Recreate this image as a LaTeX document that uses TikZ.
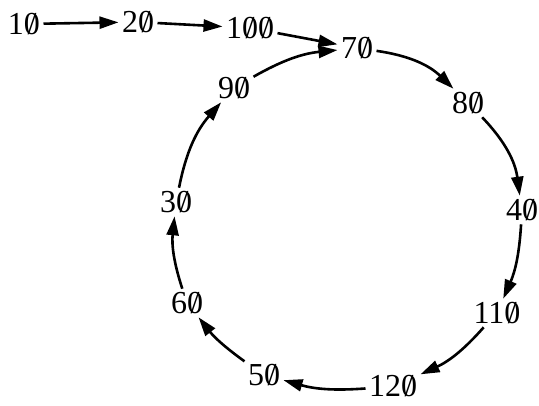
\documentclass[tikz,border=0pt]{standalone}
\usepackage{fontspec}
\setmainfont{Liberation Serif}
\usetikzlibrary{arrows.meta}
\newcommand{\oh}{\ooalign{0\cr\hidewidth/\hidewidth\cr}}

\begin{document}
\begin{tikzpicture}[x=1pt,y=-1pt,
  num/.style={inner sep=1.5pt,outer sep=2pt,font=\fontsize{32}{34}\selectfont},
  arr/.style={-{Triangle[length=19pt,width=12pt]},line width=2.6pt}]
\useasboundingbox (0,0) rectangle (539,405);
\node[num] (n10) at (24,24) {1\oh};
\node[num] (n20) at (138,22) {2\oh};
\node[num] (n100) at (250,28) {1\oh\oh};
\node[num] (n70) at (357,48) {7\oh};
\node[num] (n80) at (468,103) {8\oh};
\node[num] (n40) at (522,210) {4\oh};
\node[num] (n110) at (497,313) {11\oh};
\node[num] (n120) at (393,386) {12\oh};
\node[num] (n50) at (264,375) {5\oh};
\node[num] (n60) at (187,303) {6\oh};
\node[num] (n30) at (176,202) {3\oh};
\node[num] (n90) at (234,88) {9\oh};
\draw[arr] (n10) to (n20);
\draw[arr] (n20) to (n100);
\draw[arr] (n100) to (n70);
\draw[arr] (n70) to[bend left=18] (n80);
\draw[arr] (n80) to[bend left=18] (n40);
\draw[arr] (n40) to[bend left=10] (n110);
\draw[arr] (n110) to[bend left=12] (n120);
\draw[arr] (n120) to[bend left=10] (n50);
\draw[arr] (n50) to[bend left=8] (n60);
\draw[arr] (n60) to[bend left=12] (n30);
\draw[arr] (n30) to[bend left=15] (n90);
\draw[arr] (n90) to[bend left=12] (n70);
\end{tikzpicture}
\end{document}
